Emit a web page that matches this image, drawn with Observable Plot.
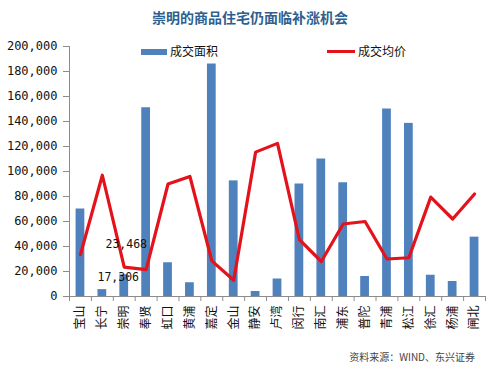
<!DOCTYPE html>
<html>
<head>
<meta charset="utf-8">
<script src="https://cdn.jsdelivr.net/npm/d3@7"></script>
<script src="https://cdn.jsdelivr.net/npm/@observablehq/plot@0.6"></script>
<style>
  html, body { margin: 0; padding: 0; background: #fff; }
  #wrap { position: relative; width: 500px; height: 371px; overflow: hidden; font-family: "Noto Sans CJK SC", sans-serif; }
  #title { position: absolute; left: 0; top: 7px; width: 500px; text-align: center; font-size: 14px; font-weight: bold; color: #2e5f8e; }
  #chart { position: absolute; left: 0; top: 30px; }
  .leg { position: absolute; font-size: 12px; color: #111; line-height: 14px; }
  #caption { position: absolute; right: 25px; top: 349px; font-size: 10px; color: #444; }
</style>
</head>
<body>
<div id="wrap">
  <div id="title">崇明的商品住宅仍面临补涨机会</div>
  <div id="chart"></div>
  <div style="position:absolute;left:141px;top:49px;width:26px;height:6px;background:#4f81bd"></div>
  <div class="leg" style="left:170px;top:44px">成交面积</div>
  <div style="position:absolute;left:327px;top:50px;width:28px;height:3px;background:#e3121b"></div>
  <div class="leg" style="left:358px;top:44px">成交均价</div>
  <div id="caption">资料来源：WIND、东兴证券</div>
</div>
<script>
const districts = ["宝山","长宁","崇明","奉贤","虹口","黄浦","嘉定","金山","静安","卢湾","闵行","南汇","浦东","普陀","青浦","松江","徐汇","杨浦","闸北"];
const area  = [70000, 5500, 17306, 151000, 27000, 11000, 186000, 92500, 4000, 14000, 90000, 110000, 91000, 16000, 150000, 138500, 17000, 12000, 47500];
const price = [33500, 97000, 23468, 21500, 90000, 96000, 28500, 13000, 115500, 122500, 45500, 28000, 58000, 60000, 30000, 31000, 79500, 62000, 82000];
const yTicks = [0, 20000, 40000, 60000, 80000, 100000, 120000, 140000, 160000, 180000, 200000];
const priceLabelIdx = [2];
const areaLabelIdx = [2];

const idx = d3.range(districts.length);
const bounds = d3.range(districts.length + 1).map(i => i - 0.5);
const axisColor = "#8c8c8c";
const mono = "'DejaVu Sans Mono', 'Liberation Mono', monospace";

const chart = Plot.plot({
  width: 500,
  height: 312,
  marginTop: 16,
  marginRight: 15,
  marginBottom: 46,
  marginLeft: 69,
  x: {domain: [-0.5, districts.length - 0.5]},
  y: {domain: [0, 200000]},
  style: {fontFamily: "'Noto Sans CJK SC', sans-serif", fontSize: "12px", color: "#111", background: "transparent"},
  marks: [
    Plot.rectY(idx, {x1: i => i - 0.2, x2: i => i + 0.2, y: i => area[i], fill: "#4f81bd"}),
    Plot.ruleY([0], {stroke: axisColor}),
    Plot.ruleX([-0.5], {stroke: axisColor}),
    Plot.axisY({ticks: yTicks, tickFormat: d3.format(","), tickSize: 6, tickPadding: 6, stroke: axisColor, fill: "#111", fontFamily: mono, fontSize: 12, label: null}),
    Plot.axisX({ticks: bounds, tickFormat: () => "", tickSize: 5, stroke: axisColor, label: null}),
    Plot.axisX({ticks: idx, tickFormat: i => districts[i], tickSize: 0, tickPadding: 9, tickRotate: -90, fontSize: 12, fill: "#111", label: null}),
    Plot.lineY(idx, {x: i => i, y: i => price[i], stroke: "#e3121b", strokeWidth: 3.2}),
    Plot.text(priceLabelIdx, {x: i => i, y: i => price[i], text: i => d3.format(",")(price[i]), dx: 2, dy: -23, fontFamily: mono, fontSize: 11.5, fill: "#111"}),
    Plot.text(areaLabelIdx, {x: i => i, y: i => area[i], text: i => d3.format(",")(area[i]), dx: -6, dy: 2, fontFamily: mono, fontSize: 11.5, fill: "#111"})
  ]
});
document.getElementById("chart").appendChild(chart);
</script>
</body>
</html>
